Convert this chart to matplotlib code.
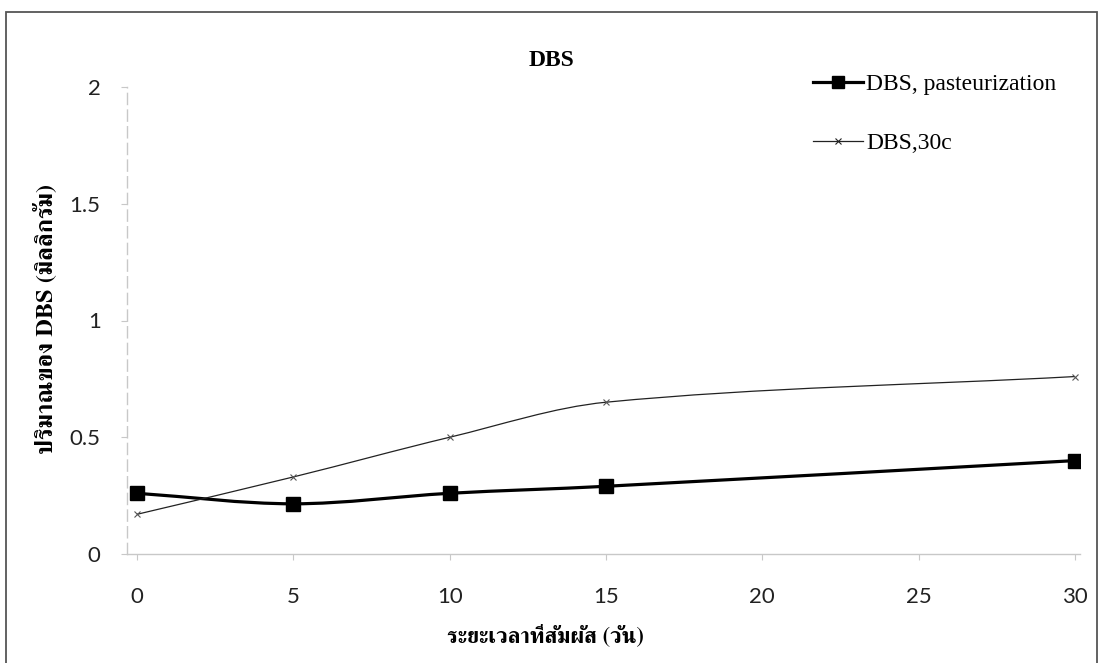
import numpy as np
import matplotlib
matplotlib.use('Agg')
import matplotlib.pyplot as plt
from matplotlib import font_manager
from matplotlib.ft2font import FT2Font
from matplotlib.path import Path
from matplotlib.patches import PathPatch, Rectangle
from matplotlib.lines import Line2D

# ข้อมูล (อ่านจากกราฟ)
days = [0, 5, 10, 15, 30]
dbs_pasteurization = [0.26, 0.215, 0.26, 0.29, 0.40]
dbs_30c = [0.17, 0.33, 0.50, 0.65, 0.76]
x_ticks = [0, 5, 10, 15, 20, 25, 30]
y_ticks = [0, 0.5, 1, 1.5, 2]
y_tick_labels = ['0', '0.5', '1', '1.5', '2']

title = 'DBS'
x_label = 'ระยะเวลาที่สัมผัส (วัน)'
y_label = 'ปริมาณของ DBS (มิลลิกรัม)'
series_names = ['DBS, pasteurization', 'DBS,30c']

# หาฟอนต์ที่มีอักษรไทย (ถ้ามีแบบ serif ให้ใช้ก่อน)
thai_fonts = []
for f in font_manager.fontManager.ttflist:
    try:
        if FT2Font(f.fname).get_char_index(0x0E01):
            thai_fonts.append(f.name)
    except Exception:
        pass
thai_fonts = sorted(set(thai_fonts), key=lambda n: ('Serif' not in n, n))
thai_family = thai_fonts[:1] + ['DejaVu Sans']


def smooth_path(xs, ys):
    # เส้นโค้งแบบ smoothed line (cubic Hermite -> Bezier)
    xs = np.asarray(xs, float)
    ys = np.asarray(ys, float)
    n = len(xs)
    m = np.empty(n)
    m[0] = (ys[1] - ys[0]) / (xs[1] - xs[0])
    m[-1] = (ys[-1] - ys[-2]) / (xs[-1] - xs[-2])
    for i in range(1, n - 1):
        m[i] = (ys[i + 1] - ys[i - 1]) / (xs[i + 1] - xs[i - 1])
    verts = [(xs[0], ys[0])]
    codes = [Path.MOVETO]
    for i in range(n - 1):
        h = (xs[i + 1] - xs[i]) / 3
        verts += [(xs[i] + h, ys[i] + m[i] * h),
                  (xs[i + 1] - h, ys[i + 1] - m[i + 1] * h),
                  (xs[i + 1], ys[i + 1])]
        codes += [Path.CURVE4] * 3
    return Path(verts, codes)


W, H = 1107, 663
fig = plt.figure(figsize=(W / 100, H / 100), dpi=100)
ax = fig.add_axes([127 / W, 1 - 554 / H, (1080 - 127) / W, (554 - 87) / H])

ax.add_patch(PathPatch(smooth_path(days, dbs_pasteurization), fill=False,
                       ec='black', lw=2.3, zorder=3))
ax.add_patch(PathPatch(smooth_path(days, dbs_30c), fill=False,
                       ec='#222222', lw=0.9, zorder=3))
ax.plot(days, dbs_pasteurization, ls='none', marker='s', ms=10,
        color='black', zorder=4)
ax.plot(days, dbs_30c, ls='none', marker='x', ms=5, mew=0.8,
        color='#555555', zorder=4)

ax.set_xlim(-0.32, 30.16)
ax.set_ylim(0, 2)
ax.set_xticks(x_ticks)
ax.set_yticks(y_ticks)
ax.set_yticklabels(y_tick_labels)

for s in ['top', 'right']:
    ax.spines[s].set_visible(False)
for s in ['left', 'bottom']:
    ax.spines[s].set_color('#c8c8c8')
    ax.spines[s].set_linewidth(1.0)
ax.spines['left'].set_linestyle((0, (8, 4)))
ax.tick_params(axis='both', colors='#c8c8c8', length=4, labelcolor='#222222',
               labelsize=16)
ax.tick_params(axis='x', pad=20)
ax.tick_params(axis='y', pad=15)
for lab in ax.get_xticklabels() + ax.get_yticklabels():
    lab.set_family(['Lato', 'DejaVu Sans'])

fig.text(551 / W, 1 - 60 / H, title, ha='center', va='center',
         family='Liberation Serif', fontweight='bold', fontsize=17)
fig.text(545 / W, 1 - 636 / H, x_label, ha='center', va='center',
         family=thai_family, fontweight='bold', fontsize=16)
fig.text(45 / W, 1 - 319 / H, y_label, ha='center', va='center',
         rotation=90, family=thai_family, fontweight='bold', fontsize=17.5)

handles = [
    Line2D([], [], color='black', lw=2.3, marker='s', ms=9),
    Line2D([], [], color='#222222', lw=0.9, marker='x', ms=5, mew=0.8),
]
fig.legend(handles, series_names, loc='upper left',
           bbox_to_anchor=(792 / W, 1 - 52 / H), frameon=False,
           prop={'family': 'Liberation Serif', 'size': 17},
           handlelength=2.1, handletextpad=0.15, labelspacing=1.6)

# กรอบรอบรูป
fig.patches.append(Rectangle((6 / W, -0.02), (1097 - 6) / W, (H - 12) / H + 0.02,
                             transform=fig.transFigure, fill=False,
                             ec='#555555', lw=1.3))

fig.savefig('out.png', dpi=100)
